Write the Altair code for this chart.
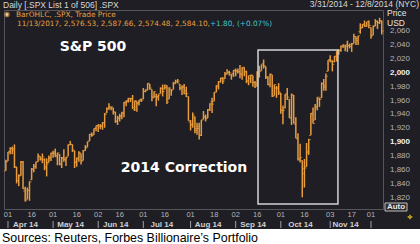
import altair as alt
import pandas as pd

# ---- S&P 500 daily OHLC, 3/31/2014 .. 12/8/2014 (one row per trading day) ----
open_ = [1859,
    1873,1887,1891,1891,1864,1845,1852,1872,1830,1818,1831,1846,1861,1866,1872,1880,1877,1875,1865,1871,1877,
    1885,1886,1879,1883,1869,1877,1875,1880,1896,1897,1888,1872,1876,1884,1874,1888,1893,1902,1911,1911,1920,
    1924,1923,1923,1928,1942,1948,1950,1949,1943,1931,1934,1937,1942,1958,1960,1963,1962,1947,1959,1956,1961,
    1962,1973,1975,1984,1976,1965,1966,1966,1970,1978,1977,1979,1962,1976,1976,1985,1988,1984,1978,1980,1974,1966,
    1929,1926,1936,1917,1923,1910,1933,1936,1935,1947,1958,1959,1972,1980,1987,1992,1991,1998,2001,1997,1999,
    2004,2003,2002,1998,2007,2001,1988,1992,1996,1986,1981,1999,2003,2013,2009,1993,1983,1997,1967,1978,1978,
    1971,1946,1949,1970,1962,1935,1967,1926,1905,1877,1874,1855,1865,1885,1910,1942,1932,1951,1962,1964,1984,1979,2002,
    2019,2016,2016,2023,2032,2032,2038,2037,2040,2039,2038,2042,2052,2046,2059,2065,2070,2067,2074,
    2065,2054,2067,2074,2072,2074]
high = [1875,
    1886,1893,1894,1897,1865,1854,1873,1873,1836,1835,1844,1863,1869,1872,1884,1880,1884,1877,1877,1881,1885,
    1888,1891,1885,1883,1879,1890,1879,1897,1902,1897,1888,1878,1887,1884,1889,1896,1901,1912,1914,1920,1924,
    1926,1926,1929,1942,1950,1956,1951,1950,1944,1938,1941,1944,1958,1960,1964,1964,1968,1960,1959,1961,1963,
    1978,1976,1985,1984,1976,1973,1970,1969,1979,1983,1983,1982,1979,1976,1987,1990,1991,1984,1982,1984,1980,1966,
    1932,1943,1937,1928,1928,1932,1945,1940,1948,1956,1964,1972,1982,1988,1993,1994,2001,2005,2003,1998,2004,
    2006,2006,2011,2008,2008,2003,1996,1997,1996,1988,2002,2010,2012,2019,2009,1995,1999,1997,1983,1981,1985,
    1971,1953,1969,1978,1962,1970,1968,1936,1913,1898,1874,1876,1899,1905,1942,1950,1955,1965,1964,1986,1991,1999,2018,
    2025,2018,2024,2031,2034,2039,2041,2040,2046,2042,2043,2056,2052,2053,2071,2070,2075,2073,2075,
    2065,2068,2077,2075,2079,2075]
low = [1859,
    1873,1883,1883,1863,1841,1837,1852,1833,1815,1818,1816,1846,1857,1862,1872,1874,1870,1860,1851,1871,1873,
    1878,1879,1867,1867,1863,1872,1866,1880,1896,1886,1863,1865,1872,1868,1874,1888,1893,1902,1908,1911,1916,
    1915,1919,1918,1921,1942,1947,1946,1940,1928,1925,1930,1933,1936,1952,1957,1958,1948,1945,1944,1953,1958,
    1962,1972,1975,1976,1959,1964,1952,1960,1970,1966,1976,1955,1962,1967,1976,1984,1985,1975,1968,1969,1965,1931,
    1917,1921,1913,1911,1904,1909,1933,1930,1935,1945,1942,1959,1972,1976,1986,1984,1991,1998,1996,1990,1994,
    1995,1999,1992,1990,1995,1985,1982,1985,1980,1978,1980,1993,2003,2006,1991,1982,1979,1965,1967,1964,1968,
    1941,1926,1949,1961,1935,1925,1927,1906,1874,1871,1821,1835,1865,1882,1910,1927,1932,1946,1951,1964,1974,1974,2002,
    2015,2002,2015,2016,2026,2030,2036,2031,2030,2035,2030,2042,2040,2040,2056,2064,2066,2066,2064,
    2049,2054,2067,2063,2070,2055]
close = [1872,
    1886,1891,1889,1865,1845,1852,1872,1833,1816,1831,1843,1862,1865,1872,1880,1875,1879,1863,1869,1878,1884,
    1884,1881,1885,1868,1878,1876,1878,1897,1897,1889,1871,1878,1885,1873,1888,1892,1901,1912,1910,1920,1924,
    1925,1924,1928,1940,1949,1951,1951,1944,1930,1936,1938,1942,1957,1959,1963,1963,1950,1960,1957,1961,1960,
    1973,1975,1985,1978,1964,1973,1965,1968,1977,1973,1982,1958,1978,1974,1984,1987,1988,1978,1979,1970,1970,1931,
    1925,1939,1920,1920,1910,1932,1937,1934,1947,1955,1955,1972,1982,1987,1992,1988,1998,2000,2000,1997,2003,
    2002,2001,1998,2008,2002,1988,1996,1997,1986,1984,1999,2002,2011,2010,1994,1983,1998,1966,1983,1978,1972,
    1946,1946,1968,1965,1935,1969,1928,1906,1875,1878,1862,1863,1887,1904,1941,1927,1951,1965,1962,1985,1982,1995,2018,
    2018,2012,2024,2031,2032,2038,2040,2038,2039,2040,2041,2052,2049,2053,2064,2069,2067,2073,2068,
    2053,2067,2074,2072,2075,2060]

# x axis: trading-day index of each labelled date
tick_idx = [1, 12, 22, 33, 43, 53, 64, 74, 86, 97, 107, 117, 128, 139, 151, 161, 170]
tick_lbl = ["01", "16", "01", "16", "02", "16", "01", "16", "01", "18", "02", "16", "01", "16", "03", "17", "01"]
month_names = ["Apr 14", "May 14", "Jun 14", "Jul 14", "Aug 14", "Sep 14", "Oct 14", "Nov 14"]
month_start = [1, 22, 43, 64, 86, 107, 128, 151]
month_end = [21, 42, 63, 85, 106, 127, 150, 169]
month_sep = [1, 22, 43, 64, 86, 107, 128, 151, 170]
price_ticks = [1820, 1840, 1860, 1880, 1900, 1920, 1940, 1960, 1980, 2000, 2020, 2040, 2060]

df = pd.DataFrame({"i": list(range(len(close))), "open": open_, "high": high, "low": low, "close": close})
ticks_df = pd.DataFrame({"i": tick_idx, "lbl": tick_lbl})
months_df = pd.DataFrame({"m": month_names, "s": month_start, "e": month_end})
months_df["c"] = (months_df["s"] + months_df["e"]) / 2
sep_df = pd.DataFrame({"i": month_sep})
price_df = pd.DataFrame({"v": price_ticks})

BG = "#1e1e24"
ORANGE = "#e89c3e"
GRID = "#34343c"
AXIS = "#6a6a72"
LBL = "#b4b4b8"
FONT = "Liberation Sans"

xs = alt.Scale(domain=[-0.862, 175.58], nice=False, zero=False)
ys = alt.Scale(domain=[1804.18, 2090.18], nice=False, zero=False)

x_axis = alt.Axis(values=tick_idx, labels=False, ticks=True, tickSize=3, tickColor=AXIS,
                  domainColor=AXIS, grid=True, gridColor=GRID, gridWidth=1, title=None)
y_axis = alt.Axis(orient="right", values=price_ticks, labels=False, grid=True, gridColor=GRID,
                  tickSize=4, tickColor=AXIS, domainColor=AXIS, title=None)

base = alt.Chart(df)
hl = base.mark_rule(color=ORANGE, strokeWidth=1.5).encode(
    x=alt.X("i:Q", scale=xs, axis=x_axis),
    y=alt.Y("low:Q", scale=ys, axis=y_axis),
    y2="high:Q")
op = base.mark_tick(orient="horizontal", size=2, thickness=1, xOffset=-1, color=ORANGE).encode(
    x=alt.X("i:Q", scale=xs, axis=None), y=alt.Y("open:Q", scale=ys, axis=None))
cl = base.mark_tick(orient="horizontal", size=2, thickness=1, xOffset=1, color=ORANGE).encode(
    x=alt.X("i:Q", scale=xs, axis=None), y=alt.Y("close:Q", scale=ys, axis=None))

box = alt.Chart(pd.DataFrame({"x1": [117.4], "x2": [154.6], "y1": [1811.4], "y2": [2032.7]})).mark_rect(
    fill=None, stroke="#d4d4d4", strokeWidth=1.5).encode(
    x=alt.X("x1:Q", scale=xs, axis=None), x2="x2:Q",
    y=alt.Y("y1:Q", scale=ys, axis=None), y2="y2:Q")

price_reg = alt.Chart(price_df).transform_filter("datum.v % 100 != 0").mark_text(
    font=FONT, fontSize=8, color=LBL, align="left", baseline="middle").encode(
    x=alt.value(386), y=alt.Y("v:Q", scale=ys, axis=None), text=alt.Text("v:Q", format=",d"))
price_bold = alt.Chart(price_df).transform_filter("datum.v % 100 == 0").mark_text(
    font=FONT, fontSize=8, fontWeight="bold", color="#f2f2f2", align="left", baseline="middle").encode(
    x=alt.value(386), y=alt.Y("v:Q", scale=ys, axis=None), text=alt.Text("v:Q", format=",d"))

day_lbls = alt.Chart(ticks_df).mark_text(font=FONT, fontSize=7.5, color=LBL, baseline="middle").encode(
    x=alt.X("i:Q", scale=xs, axis=None), y=alt.value(205), text="lbl:N")
month_lbls = alt.Chart(months_df).mark_text(font=FONT, fontSize=8, fontWeight="bold", color="#d0d0d4",
                                            baseline="middle", dx=-4).encode(
    x=alt.X("c:Q", scale=xs, axis=None), y=alt.value(214.5), text="m:N")
seps = alt.Chart(sep_df).mark_rule(color="#a0a0a8", strokeWidth=1).encode(
    x=alt.X("i:Q", scale=xs, axis=None), y=alt.value(211), y2=alt.value(218))

one = pd.DataFrame({"a": [0]})


def label(txt, x, y, size=8, color=LBL, weight="normal", align="left", font=FONT, baseline="middle"):
    return alt.Chart(one).mark_text(text=txt, font=font, fontSize=size, color=color, fontWeight=weight,
                                    align=align, baseline=baseline).encode(x=alt.value(x), y=alt.value(y))


white_strip = alt.Chart(one).mark_rect(color="white").encode(
    x=alt.value(-4), x2=alt.value(416), y=alt.value(219), y2=alt.value(234))

auto_box = alt.Chart(one).mark_rect(fill="#2a2a30", stroke="#c0c0c0", strokeWidth=1).encode(
    x=alt.value(381), x2=alt.value(403), y=alt.value(193), y2=alt.value(201))

icon = alt.Chart(one).mark_point(shape="circle", filled=True, size=28, color=ORANGE).encode(
    x=alt.value(3), y=alt.value(4.5))
icon_in = alt.Chart(one).mark_point(shape="circle", filled=True, size=6, color="white").encode(
    x=alt.value(3), y=alt.value(4.5))
corner = alt.Chart(one).mark_point(shape="cross", filled=True, size=22, color="#e8c820").encode(
    x=alt.value(406), y=alt.value(207))

LEG = "DejaVu Sans"
layers = [
    hl, op, cl, box, price_reg, price_bold, day_lbls, month_lbls, seps,
    white_strip, auto_box, icon, icon_in, corner,
    label("Daily [.SPX List 1 of 506] .SPX", -1, -5.5, size=8.5, color="#d8d8d8"),
    label("3/31/2014 - 12/8/2014 (NYC)", 415, -6, size=8.5, color="#d8d8d8", align="right"),
    label("BarOHLC, .SPX, Trade Price", 12, 5, size=7.4, color="#e8a040", font=LEG),
    label("11/13/2017, 2,576.53, 2,587.66, 2,574.48, 2,584.10,", 13, 13.5, size=7.3, color="#e8a040", font=LEG),
    label("+1.80, (+0.07%)", 206, 13.5, size=7.3, color="#40c8c8", font=LEG),
    label("Price", 383, 3, size=8.5, color="#e4e4e4"),
    label("USD", 383, 12.5, size=8.5, color="#e4e4e4"),
    label("Auto", 392, 197, size=8, color="#e8e8e8", align="center", weight="bold"),
    label("S&P 500", 89, 37, size=14, color="white", weight="bold", align="center", font="DejaVu Sans"),
    label("2014 Correction", 180, 158, size=14, color="white", weight="bold", align="center", font="DejaVu Sans"),
    label("Sources: Reuters, Forbes Billionaire\u2019s Portfolio", -2, 232, size=12.4, color="black",
          font="Liberation Sans", baseline="alphabetic"),
]

chart = alt.layer(*layers).properties(
    width=379, height=199,
    padding={"left": 4, "top": 10, "right": 37, "bottom": 35},
    autosize=alt.AutoSizeParams(type="none"),
    background=BG,
).configure_view(stroke="#55555c", strokeWidth=1)

chart.save("out.html", embed_options={"renderer": "svg", "actions": False})
